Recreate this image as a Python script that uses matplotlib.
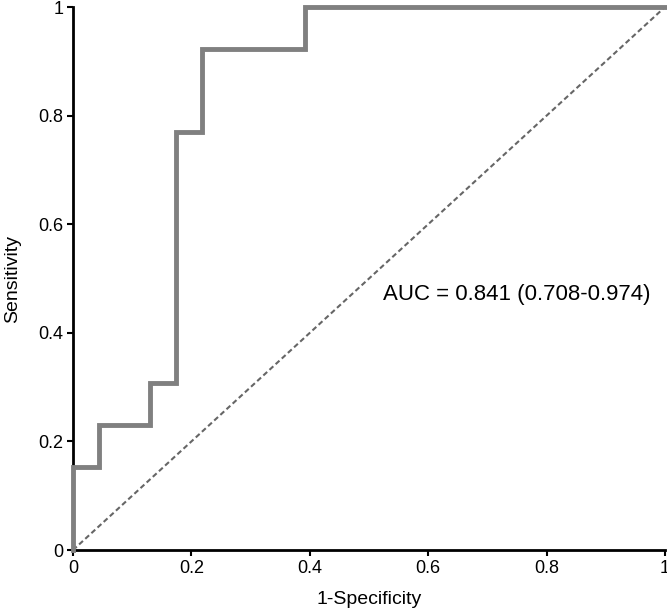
import matplotlib
matplotlib.use("Agg")
import matplotlib.pyplot as plt

plt.rcParams['font.family'] = ['Liberation Sans', 'DejaVu Sans']

# ROC curve points (1-specificity, sensitivity)
fpr = [0, 0, 1/23, 1/23, 3/23, 3/23, 4/23, 4/23, 5/23, 5/23, 9/23, 9/23, 1]
tpr = [0, 2/13, 2/13, 3/13, 3/13, 4/13, 4/13, 10/13, 10/13, 12/13, 12/13, 1, 1]
ticks = [0, 0.2, 0.4, 0.6, 0.8, 1]
tick_labels = ['0', '0.2', '0.4', '0.6', '0.8', '1']
auc_text = 'AUC = 0.841 (0.708-0.974)'

fig = plt.figure(figsize=(6.67, 6.16), dpi=100)
ax = fig.add_axes([0.1094, 0.107, 0.8876, 0.8816])

# reference diagonal
ax.plot([0, 1], [0, 1], linestyle='--', color='#666666', linewidth=1.5, dashes=(2.5, 1.5))
ax.plot(fpr, tpr, color='#808080', linewidth=3.5, solid_joinstyle='miter',
        clip_on=False, zorder=3)

ax.set_xlim(0, 1)
ax.set_ylim(0, 1)
ax.set_xticks(ticks)
ax.set_xticklabels(tick_labels)
ax.set_yticks(ticks)
ax.set_yticklabels(tick_labels)
ax.tick_params(direction='out', length=4, width=1.5, labelsize=13, pad=3)
for side in ['top', 'right']:
    ax.spines[side].set_visible(False)
for side in ['left', 'bottom']:
    ax.spines[side].set_linewidth(2)

ax.set_xlabel('1-Specificity', fontsize=14, labelpad=10)
ax.set_ylabel('Sensitivity', fontsize=14, labelpad=12)
ax.text(0.524, 0.47, auc_text, fontsize=16, va='center', ha='left')

fig.savefig('out.png', dpi=100)
